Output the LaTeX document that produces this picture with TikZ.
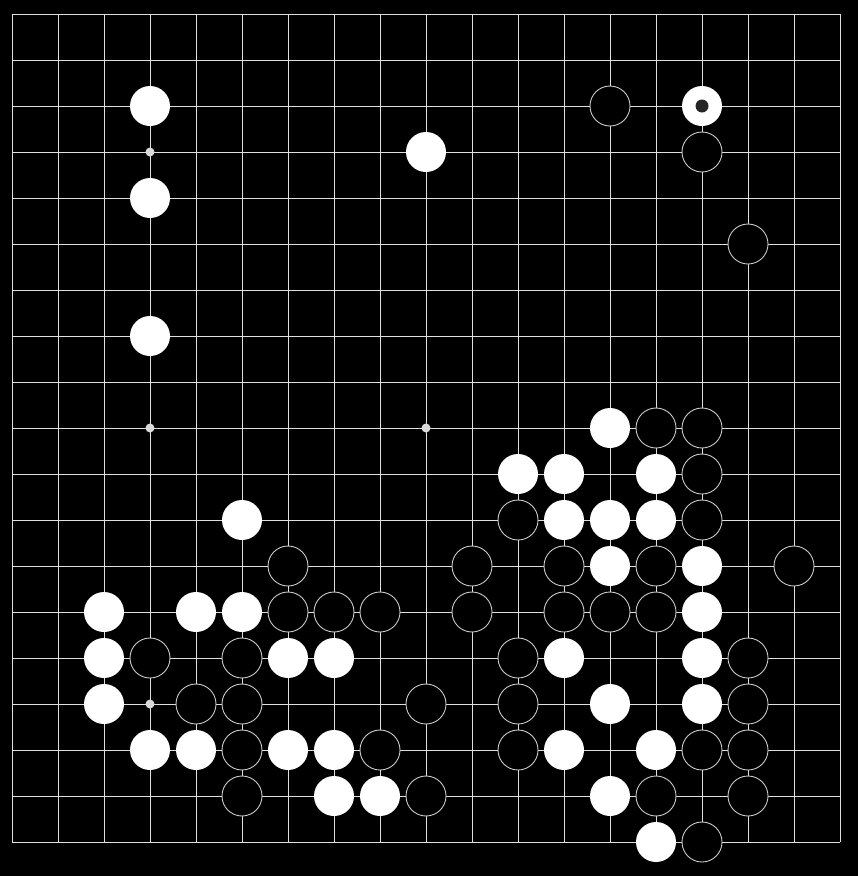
\documentclass[tikz,border=0pt]{standalone}
\begin{document}
\begin{tikzpicture}[x=1pt,y=-1pt,
  gridline/.style={draw=gray!25!white,line width=1pt},
  starpt/.style={circle,fill=gray!30!white,inner sep=0pt,minimum size=9pt},
  wstone/.style={circle,fill=white,inner sep=0pt,minimum size=40pt},
  bstone/.style={circle,fill=black,draw=gray!40!white,line width=0.9pt,inner sep=0pt,minimum size=40pt},
  markdot/.style={circle,fill=black!85,inner sep=0pt,minimum size=13pt}]
\fill[black] (0,0) rectangle (858,876);
\useasboundingbox (0,0) rectangle (858,876);
\foreach \i in {0,...,18} {
  \draw[gridline] (12+46*\i,14) -- (12+46*\i,842);
  \draw[gridline] (12,14+46*\i) -- (840,14+46*\i);
}
\foreach \c/\r in {3/3,3/9,9/9,3/15} {
  \node[starpt] (s\c-\r) at (12+46*\c,14+46*\r) {};
}
% white stones
\foreach \c/\r in {3/2,9/3,3/4,3/7,13/9,11/10,12/10,14/10,5/11,12/11,13/11,14/11,
  13/12,15/12,2/13,4/13,5/13,15/13,2/14,6/14,7/14,12/14,15/14,2/15,13/15,15/15,
  3/16,4/16,6/16,7/16,12/16,14/16,7/17,8/17,13/17,14/18} {
  \node[wstone] (w\c-\r) at (12+46*\c,14+46*\r) {};
}
% last move
\node[wstone] (w15-2) at (12+46*15,14+46*2) {};
\node[markdot] (m15-2) at (w15-2.center) {};
% black stones
\foreach \c/\r in {13/2,15/3,16/5,14/9,15/9,15/10,11/11,15/11,6/12,10/12,12/12,14/12,17/12,
  6/13,7/13,8/13,10/13,12/13,13/13,14/13,3/14,5/14,11/14,16/14,4/15,5/15,9/15,11/15,16/15,
  5/16,8/16,11/16,15/16,16/16,5/17,9/17,14/17,16/17,15/18} {
  \node[bstone] (b\c-\r) at (12+46*\c,14+46*\r) {};
}
\end{tikzpicture}
\end{document}
